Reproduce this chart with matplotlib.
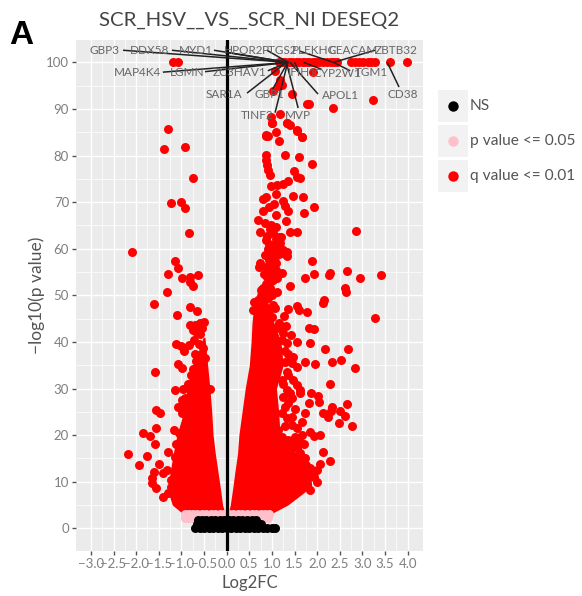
import matplotlib
matplotlib.use("Agg")
import matplotlib.pyplot as plt
from matplotlib.patches import Rectangle

plt.rcParams["font.family"] = ["Lato", "DejaVu Sans"]

RED = "#FF0000"
PINK = "#FFC0CB"
TEXT_GREY = "#7F7F7F"

x_ticks = [-3.0, -2.5, -2.0, -1.5, -1.0, -0.5, 0.0, 0.5, 1.0, 1.5, 2.0, 2.5, 3.0, 3.5, 4.0]
x_tick_labels = ["\u22123.0", "\u22122.5", "\u22122.0", "\u22121.5", "\u22121.0", "\u22120.5", "0.0", "0.5",
                 "1.0", "1.5", "2.0", "2.5", "3.0", "3.5", "4.0"]
y_ticks = [0, 10, 20, 30, 40, 50, 60, 70, 80, 90, 100]

# the solid part of the funnel is too dense to read point by point, so only its outline is kept
left_core_y = [3, 5, 8, 12, 16, 20, 25, 30, 34, 38, 41]
left_core_outer = [-0.95, -1.20, -1.30, -1.25, -1.18, -1.10, -0.95, -0.88, -0.78, -0.62, -0.52]
left_core_inner = [-0.03, -0.09, -0.13, -0.19, -0.25, -0.30, -0.33, -0.37, -0.41, -0.45, -0.48]
right_core_y = [3, 5, 7, 9, 12, 16, 20, 25, 30, 35, 40, 44, 48, 52]
right_core_outer = [0.96, 1.35, 1.62, 1.88, 1.85, 1.55, 1.18, 1.15, 1.10, 1.25, 1.20, 1.05, 0.90, 0.80]
right_core_inner = [0.03, 0.08, 0.11, 0.14, 0.18, 0.24, 0.27, 0.34, 0.41, 0.50, 0.54, 0.56, 0.60, 0.72]

# q value points on the left side
left_x = [-1.18, -1.08, -1.29, -1.39, -0.93, -0.74, -1.22, -1.01, -0.91, -0.83, -2.10, -1.15, -1.07, -1.29,
          -0.98, -0.80, -0.63, -0.81, -0.75, -1.32, -1.61, -0.82, -0.66, -1.09, -0.70, -0.81, -0.59, -0.49,
          -0.74, -0.60, -1.12, -1.01, -0.83, -0.94, -0.52, -0.59, -0.48, -0.68, -1.07, -0.99, -1.59, -0.74,
          -0.59, -0.70, -1.15, -0.96, -0.37, -1.07, -1.57, -1.47, -0.99, -1.57, -1.17, -1.05, -1.84, -1.70,
          -1.59, -1.29, -2.17, -1.76, -1.93, -1.49, -1.32, -1.40, -1.61, -1.64, -1.66, -1.57, -1.22, -1.40,
          -0.77, -0.59, -0.74, -0.96, -0.81, -1.11, -1.14, -1.11, -1.03, -1.22, -1.29,
          -0.55, -0.65, -0.72, -0.62, -0.70, -0.78, -0.85, -0.92, -0.98]
left_y = [100, 100, 85.7, 81.5, 81.8, 75.2, 69.9, 70.1, 68.7, 63.3, 59.3, 57.4, 55.8, 54.6,
          53.8, 54.0, 54.4, 52.9, 52.1, 50.8, 48.1, 47.5, 46.6, 45.7, 43.6, 43.6, 44.0, 44.3,
          42.6, 41.6, 39.5, 39.1, 39.4, 38.0, 38.8, 37.2, 36.5, 35.9, 35.2, 34.5, 33.5, 34.2,
          33.6, 32.4, 29.6, 29.8, 29.8, 26.1, 25.4, 24.8, 24.7, 21.6, 21.0, 20.5, 20.4, 19.8,
          18.0, 16.4, 16.0, 15.6, 13.5, 13.7, 12.5, 11.8, 12.1, 10.7, 9.7, 8.6, 10.4, 6.8,
          31.1, 30.4, 28.2, 26.1, 23.9, 18.2, 15.4, 13.2, 11.8, 8.9, 7.5,
          43.0, 42.0, 40.5, 39.5, 37.5, 33.0, 31.0, 28.0, 27.5]

# q value points on the right side, top row first
top_row_x = [1.15, 1.22, 1.30, 1.38, 1.45, 1.53, 1.60, 1.68, 1.75, 1.83, 1.90, 1.98, 2.05, 2.13, 2.22, 2.30,
             2.38, 2.44, 2.75, 2.83, 2.92, 3.02, 3.12, 3.20, 3.28, 3.60, 3.99]
top_row_y = [100] * len(top_row_x)
upper_x = [1.07, 1.91, 1.18, 1.22, 1.15, 1.03, 1.44, 1.77, 1.82, 2.36, 3.24, 1.18, 0.98, 1.00, 1.34, 1.55, 0.88, 1.66,
           1.00, 1.34, 1.39, 1.55, 1.67, 1.08, 0.87, 0.91, 1.16, 1.28, 1.61, 1.88, 0.86, 0.88, 0.90, 0.92,
           0.96, 1.49, 1.55, 1.62, 1.35, 1.24, 1.11, 0.98, 1.08, 1.47, 1.68, 0.88, 0.80, 1.25, 1.92, 1.05,
           0.94, 1.29, 1.35, 0.80, 1.70, 1.08, 0.69, 1.31, 0.85, 0.97, 1.08, 0.74, 1.03, 1.40, 1.55, 2.85,
           1.20, 0.87, 1.18, 0.94, 1.14, 1.33, 1.00, 0.85, 1.33, 1.07, 1.88, 0.74, 1.00, 1.09, 0.72, 1.03,
           1.22, 0.83, 1.92, 2.65, 2.26, 2.28, 1.74, 2.95, 3.41, 1.03, 1.11, 1.41, 0.81, 0.77, 1.11, 2.61,
           2.63, 2.15, 2.13, 0.61, 0.81, 0.83, 1.07, 1.55, 1.60, 1.36, 1.78, 0.58, 0.77, 0.88, 1.27, 3.29]
upper_y = [98.2, 97.9, 96.2, 95.2, 95.0, 93.9, 93.2, 91.1, 91.0, 90.3, 91.9, 88.9, 88.3, 87.0, 86.9, 85.4, 84.4, 84.0,
           86.9, 86.9, 86.5, 85.3, 83.9, 85.0, 84.2, 84.3, 83.2, 80.2, 79.6, 78.2, 80.1, 79.0, 77.9, 76.9,
           75.9, 76.7, 75.3, 75.1, 74.6, 74.0, 73.7, 73.4, 71.7, 71.3, 71.1, 71.0, 70.6, 70.2, 69.0, 69.5,
           69.0, 69.2, 68.0, 68.0, 67.7, 67.3, 66.1, 66.0, 65.6, 65.0, 64.6, 63.7, 63.4, 63.6, 63.5, 63.9,
           62.6, 61.9, 61.3, 61.0, 60.1, 59.4, 59.4, 58.6, 58.4, 58.3, 57.3, 56.9, 57.2, 57.0, 56.0, 56.1,
           54.7, 54.6, 54.6, 55.3, 54.4, 54.7, 53.8, 53.8, 54.3, 53.3, 53.7, 51.9, 51.6, 51.1, 50.7, 51.5,
           50.8, 49.1, 48.4, 48.6, 49.0, 47.9, 47.3, 47.8, 46.8, 47.1, 46.5, 46.8, 46.5, 46.1, 45.5, 45.2]
# crowded column just above the funnel
column_x = [0.72, 0.85, 0.95, 1.02, 0.70, 0.92, 1.00, 0.86, 0.95, 0.88, 0.97, 0.90, 1.05, 0.95, 0.88, 1.10,
            0.93, 0.98, 1.05, 1.10, 0.92, 1.02, 1.12, 1.16, 1.08, 1.15, 1.25, 1.28, 0.90, 0.95, 1.00]
column_y = [47.5, 47.0, 47.0, 48.0, 49.0, 49.5, 50.0, 50.5, 51.5, 52.5, 53.0, 54.0, 54.5, 55.5, 56.0, 55.5,
            57.5, 58.2, 59.0, 59.8, 60.0, 60.8, 61.5, 62.5, 62.0, 58.8, 59.7, 58.9, 62.8, 64.2, 64.5]
lower_x = [1.31, 1.83, 1.93, 1.42, 1.56, 1.84, 2.18, 2.69, 1.73, 1.96, 2.32, 2.52, 2.84, 2.29, 1.62, 1.87,
           2.02, 1.83, 2.04, 2.32, 2.67, 2.51, 2.31, 2.12, 1.73, 2.25, 2.62, 2.49, 2.77, 1.66, 1.84, 2.06,
           1.92, 1.66, 1.59, 1.47, 2.12, 2.28, 2.07, 2.00, 2.00, 1.03, 1.22, 1.33, 1.14, 1.36, 1.47, 1.29,
           1.44, 1.55, 1.33, 1.22, 1.47, 1.55, 1.62, 1.33, 1.44, 1.25, 1.36, 1.51, 1.22, 1.33, 1.44, 1.55,
           1.14, 1.22, 1.44, 1.55, 1.62, 1.73, 1.55, 1.70, 1.29, 1.40, 1.18, 1.47, 1.81, 1.62, 1.92, 1.77,
           1.55, 1.33, 1.84, 0.74, 1.00, 1.11, 0.88, 0.66, 1.22,
           1.40, 1.35, 1.50, 1.30, 1.45, 1.30, 1.40, 1.25, 1.35, 1.40, 1.30, 1.25, 1.15, 1.75, 1.65, 1.85, 1.70, 1.78]
lower_y = [43.4, 43.0, 42.7, 41.5, 40.0, 39.7, 38.4, 38.5, 35.7, 35.2, 35.7, 36.2, 34.4, 30.9, 29.0, 29.0,
           28.5, 26.9, 27.1, 26.1, 26.7, 25.2, 25.2, 24.8, 24.7, 23.8, 24.1, 22.7, 21.9, 22.9, 20.7, 20.1,
           19.8, 20.0, 18.9, 18.1, 16.4, 14.4, 13.9, 12.5, 10.0, 39.7, 40.4, 39.7, 38.3, 37.5, 36.8, 35.8,
           35.4, 34.7, 33.6, 31.8, 31.8, 30.8, 29.7, 29.7, 27.9, 28.2, 26.8, 25.7, 24.7, 23.6, 22.2, 21.5,
           21.1, 19.7, 18.2, 17.2, 16.1, 15.0, 13.9, 13.2, 15.7, 14.6, 13.2, 12.5, 11.8, 11.1, 11.1, 9.6,
           8.9, 10.4, 8.2, 44.7, 45.4, 42.9, 41.8, 42.2, 43.3,
           17.0, 19.0, 19.5, 22.0, 24.0, 26.0, 29.0, 31.0, 33.0, 36.0, 38.0, 42.0, 44.0, 13.5, 14.5, 13.0, 18.0, 10.5]

pvalue_x = [-0.93, -0.85, -0.77, -0.70, -0.92, -0.84, -0.75, -0.65, -0.55, -0.45, -0.35, -0.25, -0.15, -0.05, 0.05,
            0.15, 0.25, 0.35, 0.45, 0.55, 0.65, 0.75, 0.84, 0.93, 0.72, 0.82, 0.92]
pvalue_y = [2.2, 2.2, 2.2, 2.2, 3.0, 3.0, 3.0, 3.0, 3.0, 3.0, 3.0, 3.0, 3.0, 3.0, 3.0,
            3.0, 3.0, 3.0, 3.0, 3.0, 3.0, 3.0, 3.0, 3.0, 2.2, 2.2, 2.2]

ns_x = [-0.70, -0.60, -0.50, -0.40, -0.30, -0.20, -0.10, 0.00, 0.10, 0.20, 0.30, 0.40, 0.50, 0.60, 0.70, 0.80, 0.90, 1.00, 1.07,
        -0.66, -0.55, -0.45, -0.35, -0.25, -0.15, -0.05, 0.05, 0.15, 0.25, 0.35, 0.45, 0.55, 0.65, 0.75,
        -0.63, -0.55, -0.45, -0.35, -0.25, -0.15, -0.05, 0.05, 0.15, 0.25, 0.35, 0.45, 0.55, 0.65]
ns_y = [0.0, 0.0, 0.0, 0.0, 0.0, 0.0, 0.0, 0.0, 0.0, 0.0, 0.0, 0.0, 0.0, 0.0, 0.0, 0.0, 0.0, 0.0, 0.0,
        0.9, 0.9, 0.9, 0.9, 0.9, 0.9, 0.9, 0.9, 0.9, 0.9, 0.9, 0.9, 0.9, 0.9, 0.9,
        1.8, 1.8, 1.8, 1.8, 1.8, 1.8, 1.8, 1.8, 1.8, 1.8, 1.8, 1.8, 1.8, 1.8]

gene_names = ["GBP3", "DDX58", "MYD1", "HPOR2", "PTGS2", "PLEKHG", "CEACAM", "ZBTB32", "MAP4K4", "LGMN", "ZC3HAV1",
              "IFIH1", "CYP2W1", "TGM1", "SAR1A", "GBP1", "APOL1", "CD38", "TINF2", "MVP"]
gene_x = [-2.69, -1.70, -0.68, 0.38, 1.18, 1.95, 2.79, 3.74, -1.96, -0.88, 0.29,
          1.67, 2.44, 3.21, -0.06, 0.94, 2.51, 3.90, 0.67, 1.58]
gene_y = [102.6, 102.6, 102.6, 102.6, 102.6, 102.6, 102.6, 102.6, 97.9, 97.9, 97.9,
          97.9, 97.6, 97.9, 93.2, 93.0, 92.8, 93.2, 88.5, 88.5]

# repel segments: label end, then the point they lead to
seg_from_x = [-2.29, -1.21, -0.28, -0.04, 0.89, 1.62, 3.28, -1.41, -0.48, 0.91, 1.60, 2.10, 2.73, 0.45, 1.02, 2.02, 3.81, 1.07, 1.58]
seg_from_y = [102.6, 102.6, 102.6, 102.2, 102.6, 102.4, 102.6, 97.9, 98.0, 98.2, 98.0, 98.5, 98.2, 93.4, 94.3, 93.2, 94.7, 89.2, 90.2]
seg_to_x = [1.36, 1.36, 1.36, 1.36, 1.36, 2.36, 2.36, 1.36, 1.36, 1.36, 1.50, 1.70, 2.36, 1.32, 1.35, 1.40, 3.55, 1.35, 1.32]
seg_to_y = [100] * len(seg_to_x)

legend_labels = ["NS", "p value <= 0.05", "q value <= 0.01"]
legend_colors = ["black", PINK, RED]

fig = plt.figure(figsize=(5.82, 5.96), dpi=100)
ax = fig.add_axes([76 / 582, 1 - 550.7 / 596, (423 - 76) / 582, (550.7 - 40) / 596])
ax.set_facecolor("#EBEBEB")
ax.set_xlim(-3.33, 4.34)
ax.set_ylim(-4.8, 104.8)
for spine in ax.spines.values():
    spine.set_visible(False)

ax.set_xticks(x_ticks)
ax.set_xticklabels(x_tick_labels)
ax.set_yticks(y_ticks)
ax.set_xticks([t + 0.25 for t in x_ticks[:-1]], minor=True)
ax.set_yticks([t + 5 for t in y_ticks[:-1]], minor=True)
ax.grid(True, which="major", color="white", lw=1.0)
ax.grid(True, which="minor", color="white", lw=0.5)
ax.set_axisbelow(True)
ax.tick_params(which="minor", length=0)
ax.tick_params(which="major", length=3, width=1, color="#555555", labelcolor=TEXT_GREY, labelsize=9.5, pad=2)

point_size = 42
ax.fill_betweenx(left_core_y, left_core_outer, left_core_inner, color=RED, lw=0, zorder=2)
ax.fill_betweenx(right_core_y, right_core_inner, right_core_outer, color=RED, lw=0, zorder=2)
ax.scatter(left_x, left_y, s=point_size, color=RED, lw=0, zorder=2)
ax.scatter(top_row_x, top_row_y, s=point_size, color=RED, lw=0, zorder=2)
ax.scatter(upper_x, upper_y, s=point_size, color=RED, lw=0, zorder=2)
ax.scatter(column_x, column_y, s=point_size, color=RED, lw=0, zorder=2)
ax.scatter(lower_x, lower_y, s=point_size, color=RED, lw=0, zorder=2)
ax.scatter(pvalue_x, pvalue_y, s=point_size, color=PINK, lw=0, zorder=3)
ax.scatter(ns_x, ns_y, s=point_size, color="black", lw=0, zorder=4)
ax.axvline(0, color="black", lw=2.3, zorder=5)

for x0, y0, x1, y1 in zip(seg_from_x, seg_from_y, seg_to_x, seg_to_y):
    ax.plot([x0, x1], [y0, y1], color="#222222", lw=1.1, zorder=6, solid_capstyle="butt")
for name, x, y in zip(gene_names, gene_x, gene_y):
    ax.text(x, y, name, ha="center", va="center", fontsize=8.5, color="#666666", zorder=7, clip_on=False)

ax.set_xlabel("Log2FC", fontsize=12, color="#555555", labelpad=4)
ax.set_ylabel("\u2212log10(p value)", fontsize=12.5, color="#555555", labelpad=1)
ax.set_title("SCR_HSV__VS__SCR_NI DESEQ2", fontsize=14.7, color="#444444", pad=10, x=0.5)

# panel letter and legend sit outside the panel, placed in pixels
overlay = fig.add_axes([0, 0, 1, 1], facecolor="none")
overlay.set_xlim(0, 582)
overlay.set_ylim(596, 0)
overlay.axis("off")
overlay.text(21, 35, "A", fontsize=24, fontweight="bold", family="Liberation Sans", ha="center", va="center")
for label, color, top in zip(legend_labels, legend_colors, [90, 125, 160]):
    overlay.add_patch(Rectangle((438, top), 30, 32, facecolor="#F2F2F2", edgecolor="none"))
    overlay.plot([453], [top + 16], "o", ms=7.5, color=color, mew=0)
    overlay.text(470, top + 16, label, fontsize=11.2, color="#555555", va="center")

fig.savefig("out.png", dpi=100)
